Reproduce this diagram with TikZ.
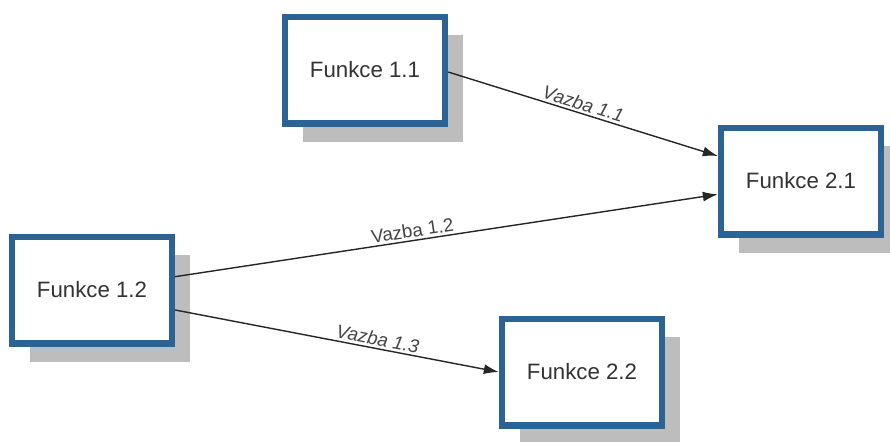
\documentclass[tikz,border=0pt]{standalone}
\usepackage{fontspec}
\setmainfont{Liberation Sans}
\usepackage{tikz}
\usetikzlibrary{shapes,arrows,arrows.meta,shadows}

\definecolor{boxblue}{HTML}{2A6394}
\definecolor{shadowgray}{HTML}{BDBDBD}
\definecolor{labelgray}{HTML}{444444}

\tikzset{
  funkce/.style={draw=boxblue, line width=0.19cm, fill=white,
    minimum width=4.8cm, minimum height=3.2cm, text=black!80,
    font=\fontsize{19}{23}\selectfont,
    drop shadow={shadow xshift=0.55cm, shadow yshift=-0.55cm, fill=shadowgray, opacity=1}},
  vazba/.style={line width=1.2pt, black!85, -{Latex[length=0.45cm,width=0.3cm]}},
  vlabel/.style={sloped, above, inner sep=2pt, text=labelgray, font=\fontsize{16}{18}\selectfont}
}

\begin{document}
\begin{tikzpicture}[x=0.03cm,y=-0.03cm]
\useasboundingbox (0,0) rectangle (890,441);
\node[funkce] (f11) at (365,70) {Funkce 1.1};
\node[funkce] (f21) at (801,181) {Funkce 2.1};
\node[funkce] (f12) at (92,290) {Funkce 1.2};
\node[funkce] (f22) at (582,372) {Funkce 2.2};
\draw[vazba] ([yshift=-0.06cm]f11.east) -- node[vlabel, pos=0.49] {\itshape Vazba 1.1} ([yshift=0.75cm]f21.west);
\draw[vazba] ([yshift=0.4cm]f12.east) -- node[vlabel, pos=0.44] {Vazba 1.2} ([yshift=-0.4cm]f21.west);
\draw[vazba] ([yshift=-0.6cm]f12.east) -- node[vlabel, pos=0.62] {\itshape Vazba 1.3} (f22.west);
\end{tikzpicture}
\end{document}
